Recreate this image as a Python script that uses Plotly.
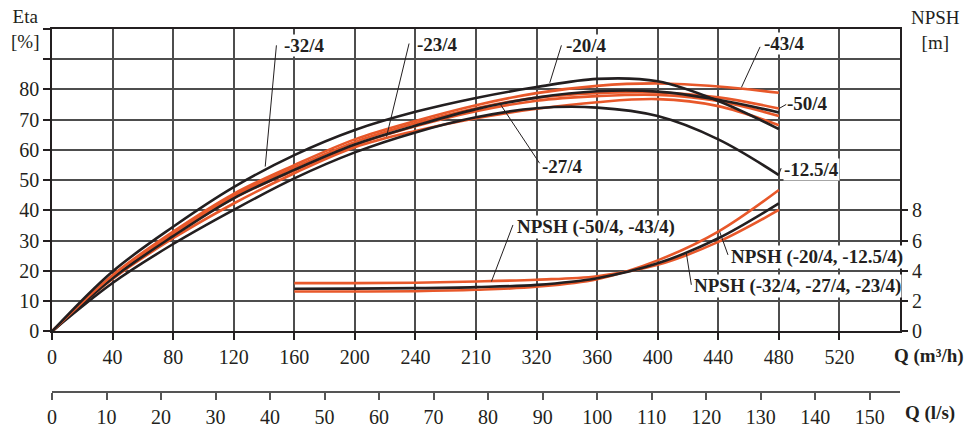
import plotly.graph_objects as go

# ---------------- data ----------------
q_eta = [0, 40, 80, 120, 160, 200, 240, 280, 320, 360, 400, 440, 480]
eta_black_top = [0, 19.8, 34.6, 47.7, 58.3, 66.6, 72.6, 77.2, 80.8, 83.5, 82.7, 76.2, 66.9]
eta_black_mid = [0, 17.6, 31.5, 44.0, 53.4, 61.8, 68.0, 73.5, 77.3, 79.4, 79.3, 76.6, 72.4]
eta_black_low = [0, 16.0, 28.9, 40.2, 50.6, 59.2, 65.8, 70.8, 73.8, 74.0, 71.2, 63.5, 51.7]
eta_orange_1 = [0, 18.6, 33.0, 45.5, 55.0, 63.5, 69.6, 74.8, 78.8, 81.2, 82.0, 81.0, 78.9]
eta_orange_2 = [0, 18.2, 32.4, 44.8, 54.2, 62.6, 68.8, 73.8, 77.3, 78.8, 79.0, 77.4, 73.7]
eta_orange_3 = [0, 17.8, 31.8, 44.0, 53.2, 61.6, 67.8, 72.8, 76.3, 77.8, 78.2, 76.2, 71.2]
eta_orange_4 = [0, 17.3, 30.8, 42.3, 52.3, 60.9, 66.3, 70.5, 73.6, 75.8, 76.8, 74.5, 68.2]

q_npsh = [160, 200, 240, 280, 320, 360, 400, 440, 480]
npsh_orange_a = [3.19, 3.19, 3.22, 3.30, 3.42, 3.65, 4.40, 5.92, 8.03]
npsh_black = [2.82, 2.83, 2.86, 2.93, 3.08, 3.52, 4.50, 6.16, 8.47]
npsh_orange_b = [2.64, 2.64, 2.66, 2.75, 2.95, 3.45, 4.70, 6.60, 9.35]

q_ticks = [0, 40, 80, 120, 160, 200, 240, 280, 320, 360, 400, 440, 480, 520]
q_tick_text = ["0", "40", "80", "120", "160", "200", "240", "210", "320",
               "360", "400", "440", "480", "520"]
qls_ticks = [0, 10, 20, 30, 40, 50, 60, 70, 80, 90, 100, 110, 120, 130, 140, 150]
eta_ticks = [0, 10, 20, 30, 40, 50, 60, 70, 80, 90, 100]
eta_tick_text = ["0", "10", "20", "30", "40", "50", "60", "70", "80", "", ""]
npsh_ticks = [0, 2, 4, 6, 8]

# curve labels: (text, text_x, text_y, leader x0, y0, x1, y1)  in Q / Eta units
labels = [
    ("-32/4", 152.4, 94.7, 148.2, 94.6, 140.8, 54.5),
    ("-23/4", 240.7, 94.9, 235.8, 95.2, 220.9, 64.4),
    ("-20/4", 338.6, 94.6, 336.4, 94.6, 328.7, 82.2),
    ("-27/4", 323.2, 54.5, 322.0, 55.6, 295.7, 75.4),
    ("-43/4", 469.5, 95.2, 467.6, 94.1, 455.3, 80.7),
    ("-50/4", 485.0, 75.4, 485.0, 75.1, 480.1, 73.7),
    ("-12.5/4", 482.8, 53.4, 481.5, 54.0, 480.0, 51.9),
    ("NPSH (-50/4, -43/4)", 306.7, 34.65, 304.4, 35.2, 290.2, 16.5),
    ("NPSH (-20/4, -12.5/4)", 447.6, 24.55, 446.4, 25.3, 440.9, 33.0),
    ("NPSH (-32/4, -27/4, -23/4)", 423.3, 14.85, 422.2, 15.4, 418.9, 25.9),
]

BLACK = "#231f20"
ORANGE = "#e8582a"
GRID = "#4d4d4d"
FONT = "Liberation Serif"

fig = go.Figure()

eta_series = [
    (eta_orange_4, ORANGE), (eta_orange_3, ORANGE), (eta_orange_2, ORANGE),
    (eta_black_low, BLACK), (eta_black_mid, BLACK), (eta_orange_1, ORANGE),
    (eta_black_top, BLACK),
]
for vals, col in eta_series:
    fig.add_trace(go.Scatter(x=q_eta, y=vals, mode="lines",
                             line=dict(color=col, width=2.6, shape="spline", smoothing=1.0),
                             showlegend=False, hoverinfo="skip"))

for vals, col in [(npsh_orange_a, ORANGE), (npsh_orange_b, ORANGE), (npsh_black, BLACK)]:
    fig.add_trace(go.Scatter(x=q_npsh, y=vals, mode="lines", yaxis="y2",
                             line=dict(color=col, width=2.6, shape="spline", smoothing=1.0),
                             showlegend=False, hoverinfo="skip"))

# carrier trace for the l/s axis
fig.add_trace(go.Scatter(x=[0, 150], y=[0, 0], xaxis="x2", mode="lines",
                         line=dict(width=0), opacity=0, showlegend=False, hoverinfo="skip"))

annotations = []
shapes = []
for text, tx, ty, x0, y0, x1, y1 in labels:
    shapes.append(dict(type="line", xref="x", yref="y", x0=x0, y0=y0, x1=x1, y1=y1,
                       line=dict(color=BLACK, width=1)))
    annotations.append(dict(text="<b>%s</b>" % text, x=tx, y=ty, xref="x", yref="y",
                            xanchor="left", yanchor="middle", showarrow=False,
                            bgcolor="white", borderpad=0,
                            font=dict(family=FONT, size=19, color=BLACK)))

W, H = 971, 428
L, R, T, B = 52.3, 900.0, 29.3, 392.3
pw, ph = R - L, B - T


def px(xp):
    return (xp - L) / pw


def py(yp):
    return (B - yp) / ph


for text, x, y, anchor, size in [
    ("Eta<br>[%]", 25.5, 29.5, "center", 19),
    ("NPSH<br>[m]", 935, 30, "center", 19),
    ("<b>Q (m³/h)</b>", 891.7, 356.7, "left", 19),
    ("<b>Q (l/s)</b>", 902.7, 413.3, "left", 19),
]:
    annotations.append(dict(text=text, x=px(x), y=py(y), xref="paper", yref="paper",
                            xanchor=anchor, yanchor="middle", align="center",
                            showarrow=False,
                            font=dict(family=FONT, size=size, color=BLACK)))

y_dom0 = (B - 331.7) / ph

fig.update_layout(
    width=W, height=H, autosize=False,
    margin=dict(l=L, r=W - R, t=T, b=H - B, pad=0),
    plot_bgcolor="white", paper_bgcolor="white",
    font=dict(family=FONT, size=20, color=BLACK),
    xaxis=dict(range=[0, 560], tickvals=q_ticks, ticktext=q_tick_text,
               showgrid=True, gridcolor=GRID, gridwidth=1.5,
               showline=True, linecolor=BLACK, linewidth=1.5, mirror=True,
               ticks="outside", ticklen=7, tickwidth=1.5, tickcolor=BLACK,
               zeroline=False, anchor="y", automargin=False,
               tickfont=dict(family=FONT, size=20, color=BLACK)),
    xaxis2=dict(range=[0, 560 / 3.6], tickvals=qls_ticks, overlaying="x",
                anchor="free", position=0, side="bottom",
                showgrid=False, zeroline=False, automargin=False,
                showline=True, linecolor="#555555", linewidth=1.5,
                ticks="outside", ticklen=7, tickwidth=1.5, tickcolor="#555555",
                tickfont=dict(family=FONT, size=20, color=BLACK)),
    yaxis=dict(domain=[y_dom0, 1], range=[0, 100], tickvals=eta_ticks,
               ticktext=eta_tick_text, automargin=False,
               showgrid=True, gridcolor=GRID, gridwidth=1.5,
               showline=True, linecolor=BLACK, linewidth=1.5, mirror=True,
               ticks="outside", ticklen=7, tickwidth=1.5, tickcolor=BLACK,
               zeroline=False,
               tickfont=dict(family=FONT, size=20, color=BLACK)),
    yaxis2=dict(range=[0, 20], tickvals=npsh_ticks, overlaying="y", side="right",
                showgrid=False, zeroline=False, showline=False, automargin=False,
                ticks="outside", ticklen=7, tickwidth=1.5, tickcolor=BLACK,
                tickfont=dict(family=FONT, size=20, color=BLACK)),
    shapes=shapes,
    annotations=annotations,
)

fig.write_html("out.html", config={"responsive": False, "displayModeBar": False},
               post_script="document.body.style.margin='0';"
                           "document.body.style.overflow='hidden';")
